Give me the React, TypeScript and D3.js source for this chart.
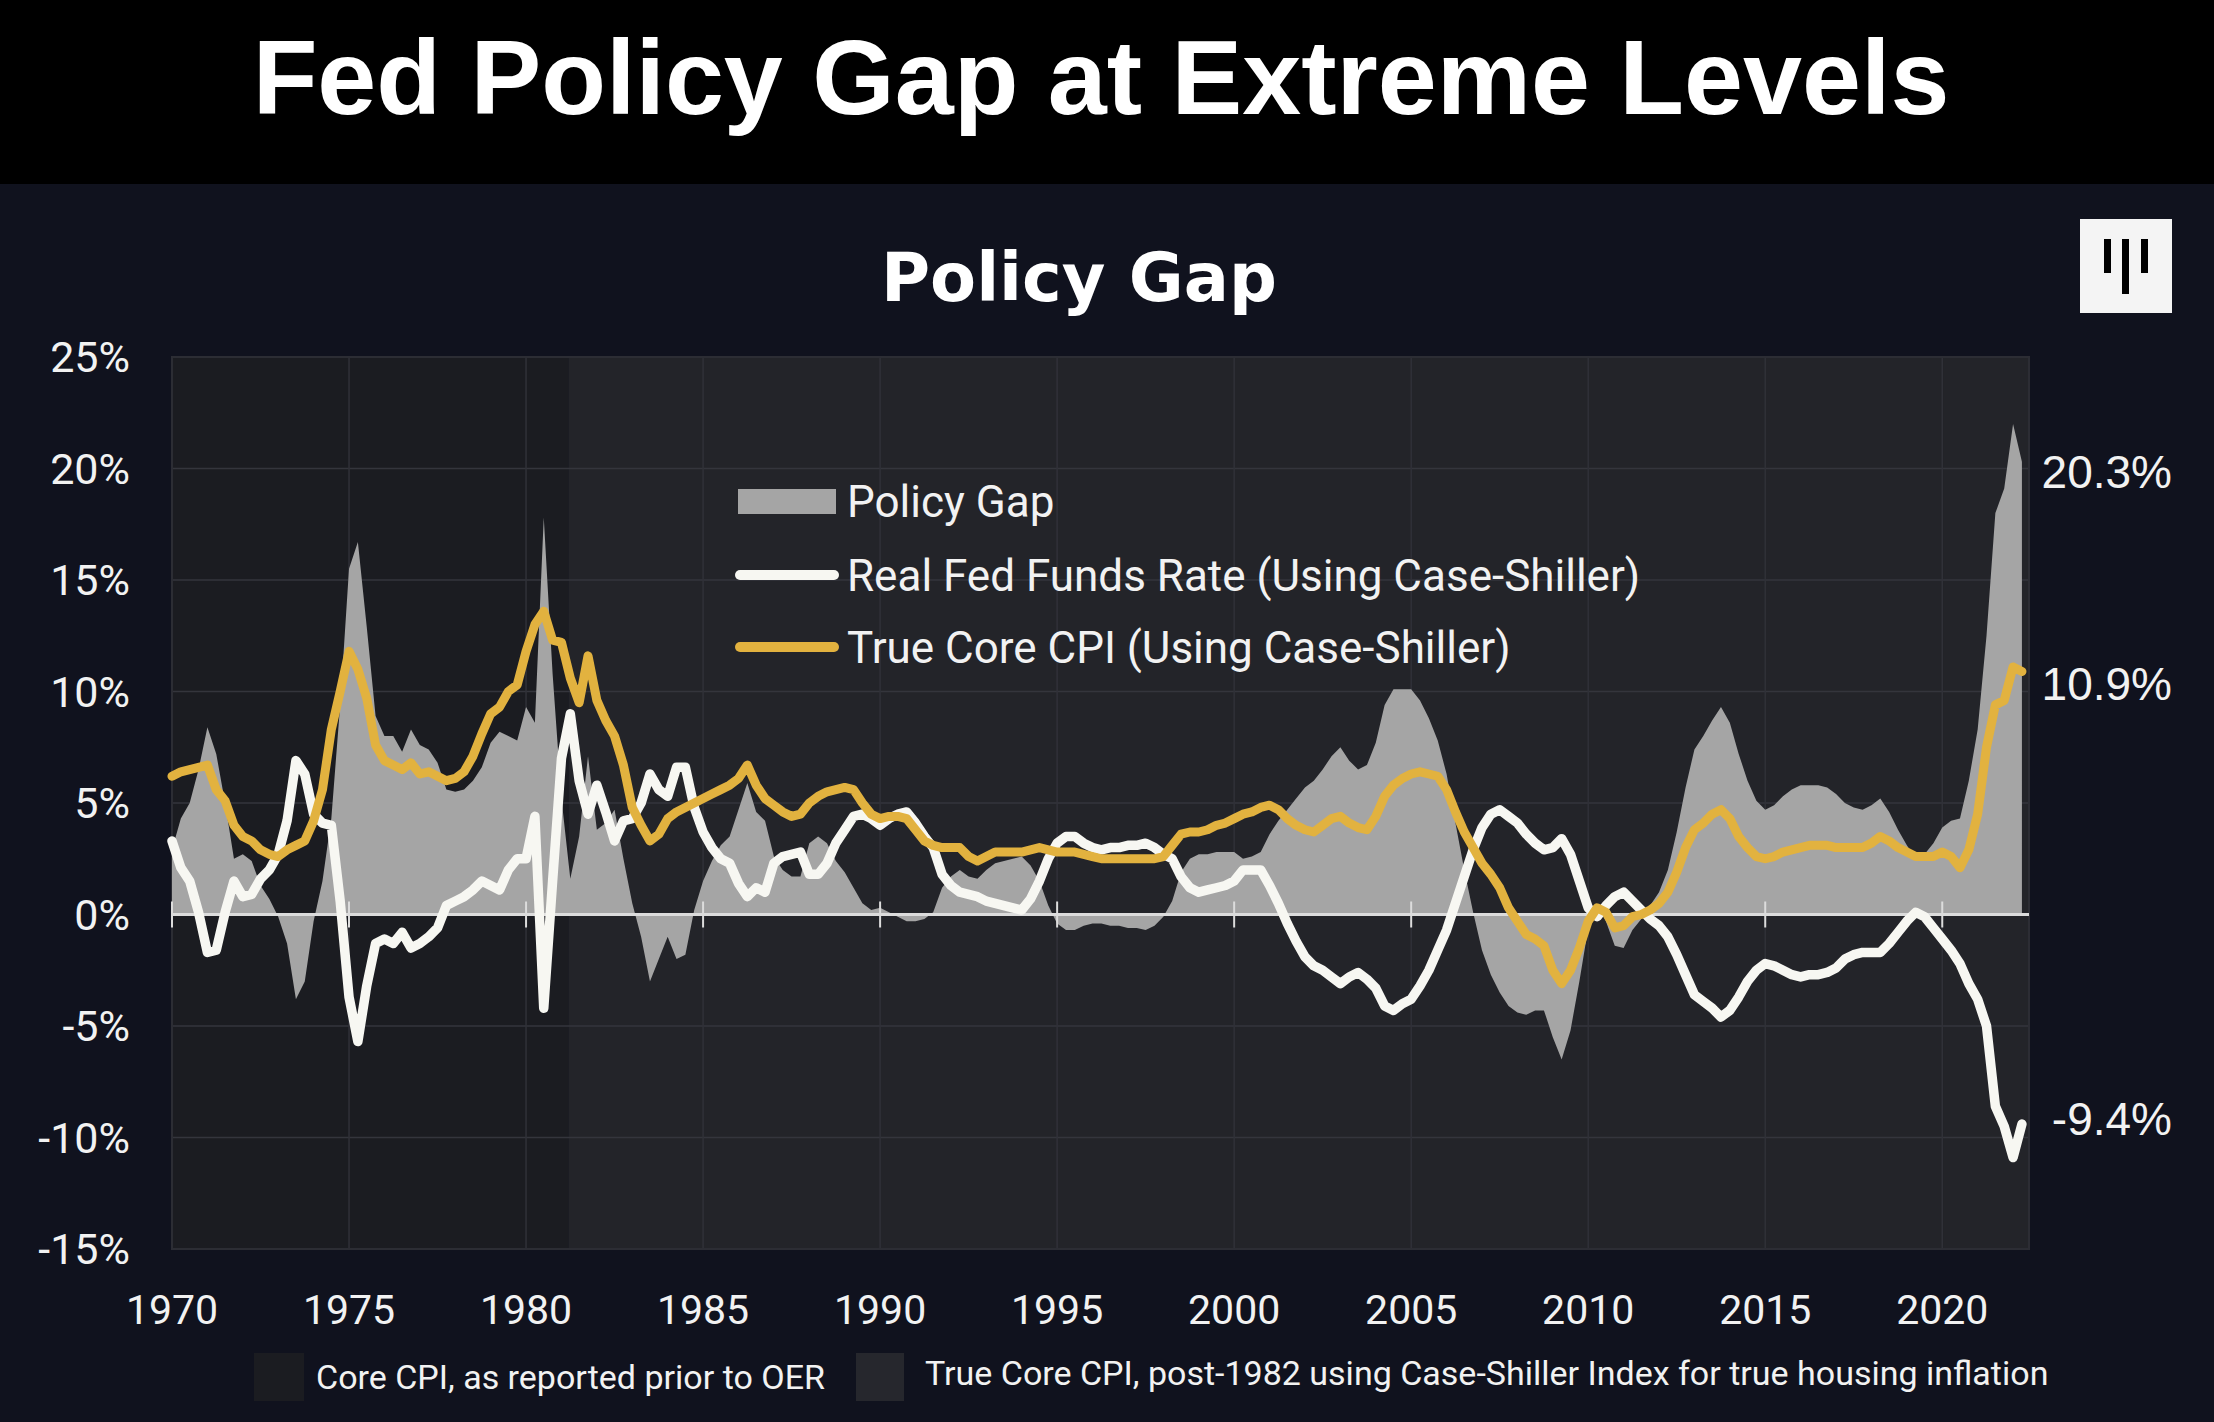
import React from 'react';
import * as d3 from 'd3';

// Quarterly readings, 1970 Q1 .. 2022 Q2
const startYear = 1970;
const trueCoreCpi = [
  6.2, 6.4, 6.5, 6.6, // 1970
  6.7, 5.6, 5.1, 4.0,
  3.5, 3.3, 2.9, 2.7,
  2.6, 2.9, 3.1, 3.3,
  4.2, 5.6, 8.3, 10.0,
  11.8, 11.0, 9.7, 7.6, // 1975
  6.9, 6.7, 6.5, 6.8,
  6.3, 6.4, 6.2, 6.0,
  6.1, 6.4, 7.1, 8.1,
  9.0, 9.3, 10.0, 10.3,
  11.8, 13.0, 13.6, 12.3, // 1980
  12.2, 10.6, 9.5, 11.6,
  9.6, 8.7, 8.0, 6.7,
  4.8, 4.0, 3.3, 3.6,
  4.3, 4.6, 4.8, 5.0,
  5.2, 5.4, 5.6, 5.8, // 1985
  6.1, 6.7, 5.8, 5.2,
  4.9, 4.6, 4.4, 4.5,
  5.0, 5.3, 5.5, 5.6,
  5.7, 5.6, 5.0, 4.5,
  4.3, 4.4, 4.4, 4.3, // 1990
  3.8, 3.3, 3.1, 3.0,
  3.0, 3.0, 2.6, 2.4,
  2.6, 2.8, 2.8, 2.8,
  2.8, 2.9, 3.0, 2.9,
  2.8, 2.8, 2.8, 2.7, // 1995
  2.6, 2.5, 2.5, 2.5,
  2.5, 2.5, 2.5, 2.5,
  2.6, 3.1, 3.6, 3.7,
  3.7, 3.8, 4.0, 4.1,
  4.3, 4.5, 4.6, 4.8, // 2000
  4.9, 4.7, 4.3, 4.0,
  3.8, 3.7, 4.0, 4.3,
  4.4, 4.1, 3.9, 3.8,
  4.4, 5.3, 5.8, 6.1,
  6.3, 6.4, 6.3, 6.2, // 2005
  5.6, 4.6, 3.7, 3.0,
  2.3, 1.8, 1.2, 0.3,
  -0.3, -0.9, -1.1, -1.4,
  -2.5, -3.1, -2.5, -1.5,
  -0.3, 0.3, 0.1, -0.6, // 2010
  -0.5, -0.1, 0.0, 0.2,
  0.5, 1.0, 1.9, 3.0,
  3.8, 4.1, 4.5, 4.7,
  4.3, 3.5, 3.0, 2.6,
  2.5, 2.6, 2.8, 2.9, // 2015
  3.0, 3.1, 3.1, 3.1,
  3.0, 3.0, 3.0, 3.0,
  3.2, 3.5, 3.3, 3.0,
  2.8, 2.6, 2.6, 2.6,
  2.8, 2.6, 2.1, 2.9, // 2020
  4.5, 7.5, 9.4, 9.6,
  11.1, 10.9
];
const realFedFunds = [
  3.3, 2.1, 1.5, 0.1, // 1970
  -1.7, -1.6, 0.1, 1.5,
  0.8, 0.9, 1.6, 2.0,
  2.7, 4.2, 6.9, 6.3,
  4.5, 4.1, 4.0, 0.6,
  -3.7, -5.7, -3.2, -1.3, // 1975
  -1.1, -1.3, -0.8, -1.5,
  -1.3, -1.0, -0.6, 0.4,
  0.6, 0.8, 1.1, 1.5,
  1.3, 1.1, 2.0, 2.5,
  2.5, 4.4, -4.2, 1.5, // 1980
  7.0, 9.0, 6.0, 4.5,
  5.8, 4.6, 3.3, 4.2,
  4.3, 5.0, 6.3, 5.6,
  5.3, 6.6, 6.6, 4.8,
  3.7, 3.0, 2.5, 2.3, // 1985
  1.4, 0.8, 1.2, 1.0,
  2.3, 2.6, 2.7, 2.8,
  1.8, 1.8, 2.3, 3.2,
  3.8, 4.4, 4.5, 4.3,
  4.0, 4.3, 4.5, 4.6, // 1990
  4.1, 3.5, 3.0, 1.8,
  1.3, 1.0, 0.9, 0.8,
  0.6, 0.5, 0.4, 0.3,
  0.2, 0.7, 1.5, 2.5,
  3.2, 3.5, 3.5, 3.2, // 1995
  3.0, 2.9, 3.0, 3.0,
  3.1, 3.1, 3.2, 3.0,
  2.7, 2.5, 1.7, 1.2,
  1.0, 1.1, 1.2, 1.3,
  1.5, 2.0, 2.0, 2.0, // 2000
  1.3, 0.5, -0.4, -1.2,
  -1.9, -2.3, -2.5, -2.8,
  -3.1, -2.8, -2.6, -2.9,
  -3.3, -4.1, -4.3, -4.0,
  -3.8, -3.2, -2.5, -1.6, // 2005
  -0.7, 0.5, 1.7, 2.9,
  3.9, 4.5, 4.7, 4.4,
  4.1, 3.6, 3.2, 2.9,
  3.0, 3.4, 2.7, 1.5,
  0.3, -0.1, 0.4, 0.8, // 2010
  1.0, 0.6, 0.2, -0.2,
  -0.5, -1.0, -1.8, -2.7,
  -3.6, -3.9, -4.2, -4.6,
  -4.3, -3.7, -3.0, -2.5,
  -2.2, -2.3, -2.5, -2.7, // 2015
  -2.8, -2.7, -2.7, -2.6,
  -2.4, -2.0, -1.8, -1.7,
  -1.7, -1.7, -1.3, -0.8,
  -0.3, 0.1, -0.1, -0.6,
  -1.1, -1.6, -2.2, -3.1, // 2020
  -3.8, -5.0, -8.6, -9.5,
  -10.9, -9.4
];
const yTicks = [25, 20, 15, 10, 5, 0, -5, -10, -15];
const xTicks = [1970, 1975, 1980, 1985, 1990, 1995, 2000, 2005, 2010, 2015, 2020];
const endLabels = [
  { text: '20.3%', value: 20.3, dy: 26 },
  { text: '10.9%', value: 10.9, dy: 29 },
  { text: '-9.4%', value: -9.4, dy: 11 }
];
const oerEndYear = 1981.2;

const W = 2214;
const H = 1422;
const plot = { left: 172, right: 2029, top: 357, bottom: 1249 };

const App: React.FC = () => {
  const x = d3.scaleLinear().domain([1970, 2022.45]).range([plot.left, plot.right]);
  const y = d3.scaleLinear().domain([-15, 25]).range([plot.bottom, plot.top]);

  const rows = trueCoreCpi.map((cpi, i) => ({
    year: startYear + i / 4,
    cpi,
    rffr: realFedFunds[i],
    gap: cpi - realFedFunds[i] // policy gap = true core CPI minus real fed funds
  }));

  const gapArea = d3.area<any>().x(d => x(d.year)).y0(y(0)).y1(d => y(d.gap))(rows) || '';
  const rffrLine = d3.line<any>().x(d => x(d.year)).y(d => y(d.rffr))(rows) || '';
  const cpiLine = d3.line<any>().x(d => x(d.year)).y(d => y(d.cpi))(rows) || '';

  const sans = 'Roboto, "Liberation Sans", sans-serif';

  return (
    <svg width={W} height={H} style={{ position: 'absolute', left: 0, top: 0, display: 'block' }}>
      <rect width={W} height={H} fill="#10121e" />
      <rect width={W} height={184} fill="#000" />
      <text x={1101} y={114} textAnchor="middle" fill="#fff" fontFamily='"Liberation Sans", Arial, sans-serif'
        fontWeight={700} fontSize={106}>Fed Policy Gap at Extreme Levels</text>

      <text x={1079} y={301} textAnchor="middle" fill="#fff" fontFamily='"DejaVu Sans", sans-serif'
        fontWeight={700} fontSize={67}>Policy Gap</text>

      {/* logo */}
      <rect x={2080} y={219} width={92} height={94} fill="#f4f4f4" />
      <rect x={2104} y={239} width={7} height={34} fill="#000" />
      <rect x={2122} y={239} width={7} height={55} fill="#000" />
      <rect x={2141} y={239} width={7} height={34} fill="#000" />

      {/* plot background: reported core CPI era vs Case-Shiller era */}
      <rect x={plot.left} y={plot.top} width={x(oerEndYear) - plot.left} height={plot.bottom - plot.top} fill="#1b1c21" />
      <rect x={x(oerEndYear)} y={plot.top} width={plot.right - x(oerEndYear)} height={plot.bottom - plot.top} fill="#232429" />

      {yTicks.map(t => (
        <line key={'gy' + t} x1={plot.left} x2={plot.right} y1={y(t)} y2={y(t)} stroke="#34353c" strokeWidth={1.5} />
      ))}
      {xTicks.map(t => (
        <line key={'gx' + t} x1={x(t)} x2={x(t)} y1={plot.top} y2={plot.bottom} stroke="#303138" strokeWidth={1.5} />
      ))}
      <rect x={plot.left} y={plot.top} width={plot.right - plot.left} height={plot.bottom - plot.top}
        fill="none" stroke="#2c2d34" strokeWidth={2} />

      <path d={gapArea} fill="#a5a5a5" />
      <line x1={plot.left} x2={plot.right} y1={y(0)} y2={y(0)} stroke="#dcdcdc" strokeWidth={3} />
      {xTicks.map(t => (
        <line key={'tk' + t} x1={x(t)} x2={x(t)} y1={y(0) - 13} y2={y(0) + 13} stroke="#dcdcdc" strokeWidth={2} />
      ))}
      <path d={rffrLine} fill="none" stroke="#f7f7f2" strokeWidth={9.5} strokeLinejoin="round" strokeLinecap="round" />
      <path d={cpiLine} fill="none" stroke="#e2b23f" strokeWidth={9} strokeLinejoin="round" strokeLinecap="round" />

      {yTicks.map(t => (
        <text key={'yl' + t} x={130} y={y(t)} dy="0.36em" textAnchor="end" fill="#f2f2f2"
          fontFamily={sans} fontSize={43}>{t}%</text>
      ))}
      {xTicks.map(t => (
        <text key={'xl' + t} x={x(t)} y={1324} textAnchor="middle" fill="#f2f2f2"
          fontFamily={sans} fontSize={41}>{t}</text>
      ))}

      {endLabels.map(l => (
        <text key={l.text} x={2172} y={y(l.value) + l.dy} textAnchor="end" fill="#f2f2f2"
          fontFamily='"Liberation Sans", Arial, sans-serif' fontSize={46}>{l.text}</text>
      ))}

      {/* legend */}
      <rect x={738} y={489} width={98} height={25} fill="#a5a5a5" />
      <text x={847} y={501} dy="0.36em" fill="#f2f2f2" fontFamily={sans} fontSize={44}>Policy Gap</text>
      <line x1={740} x2={834} y1={575} y2={575} stroke="#f7f7f2" strokeWidth={10} strokeLinecap="round" />
      <text x={847} y={575} dy="0.36em" fill="#f2f2f2" fontFamily={sans} fontSize={44}>Real Fed Funds Rate (Using Case-Shiller)</text>
      <line x1={740} x2={834} y1={647} y2={647} stroke="#e2b23f" strokeWidth={10} strokeLinecap="round" />
      <text x={847} y={647} dy="0.36em" fill="#f2f2f2" fontFamily={sans} fontSize={44}>True Core CPI (Using Case-Shiller)</text>

      {/* bottom legend for the shaded backgrounds */}
      <rect x={254} y={1353} width={50} height={48} fill="#1b1c21" />
      <text x={316} y={1377} dy="0.36em" fill="#f2f2f2" fontFamily={sans} fontSize={34}>Core CPI, as reported prior to OER</text>
      <rect x={856} y={1353} width={48} height={48} fill="#26272d" />
      <text x={925} y={1373} dy="0.36em" fill="#f2f2f2" fontFamily={sans} fontSize={34}>True Core CPI, post-1982 using Case-Shiller Index for true housing inflation</text>
    </svg>
  );
};

export default App;
